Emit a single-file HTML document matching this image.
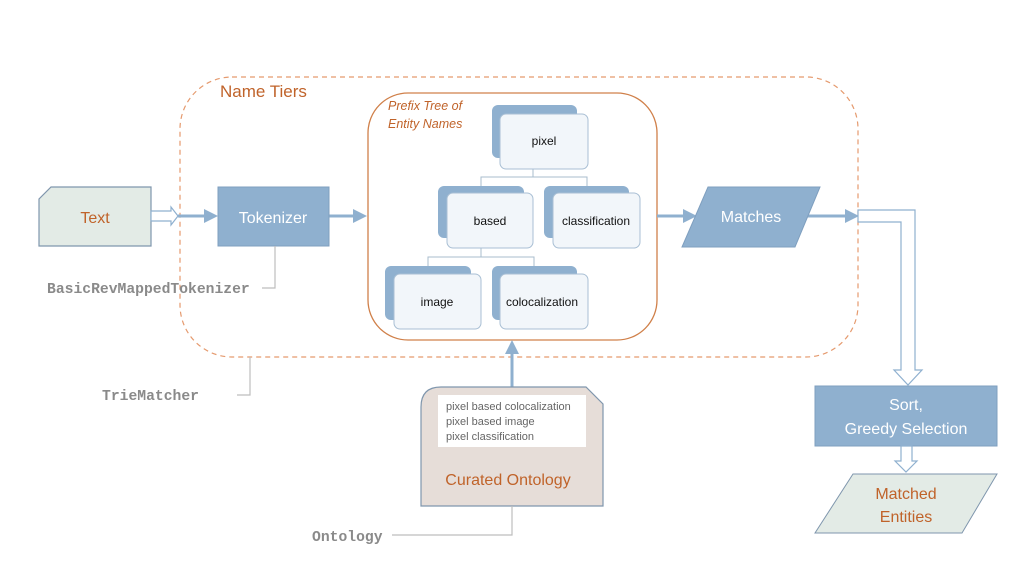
<!DOCTYPE html>
<html><head><meta charset="utf-8"><style>
html,body{margin:0;padding:0;background:#fff;width:1024px;height:576px;overflow:hidden}
svg{display:block}
.c{font-family:"Liberation Sans",sans-serif}
.m{font-family:"Liberation Mono",monospace;font-weight:bold;fill:#8a8a8a;font-size:14.7px}
</style></head><body>
<svg width="1024" height="576" viewBox="0 0 1024 576" xmlns="http://www.w3.org/2000/svg">
<rect x="180" y="77" width="678" height="280" rx="52" fill="none" stroke="#e59a6e" stroke-width="1.2" stroke-dasharray="5,4"/>
<text x="220" y="97" class="c" font-size="17" fill="#c0632a">Name Tiers</text>
<rect x="368" y="93" width="289" height="247" rx="40" fill="#fff" stroke="#d0804a" stroke-width="1.3"/>
<text x="388" y="110" class="c" font-size="12.5" font-style="italic" fill="#c0632a">Prefix Tree of</text>
<text x="388" y="128" class="c" font-size="12.5" font-style="italic" fill="#c0632a">Entity Names</text>
<g stroke="#a9bccd" fill="none" stroke-width="1">
<path d="M533 169V177M481 186V177H587V186"/>
<path d="M481 248V257M428 266V257H534V266"/>
</g>
<g class="c" font-size="12" text-anchor="middle" fill="#111">
<rect x="492" y="105" width="85" height="53" rx="6" fill="#8fb0cf"/>
<rect x="500" y="114" width="88" height="55" rx="6" fill="#f2f6fa" stroke="#a9bfd4"/>
<text x="544" y="145">pixel</text>
<rect x="438" y="186" width="86" height="52" rx="6" fill="#8fb0cf"/>
<rect x="447" y="193" width="86" height="55" rx="6" fill="#f2f6fa" stroke="#a9bfd4"/>
<text x="490" y="225">based</text>
<rect x="544" y="186" width="85" height="52" rx="6" fill="#8fb0cf"/>
<rect x="553" y="193" width="87" height="55" rx="6" fill="#f2f6fa" stroke="#a9bfd4"/>
<text x="596" y="225">classification</text>
<rect x="385" y="266" width="86" height="54" rx="6" fill="#8fb0cf"/>
<rect x="394" y="274" width="87" height="55" rx="6" fill="#f2f6fa" stroke="#a9bfd4"/>
<text x="437" y="306">image</text>
<rect x="492" y="266" width="85" height="54" rx="6" fill="#8fb0cf"/>
<rect x="500" y="274" width="88" height="55" rx="6" fill="#f2f6fa" stroke="#a9bfd4"/>
<text x="542" y="306">colocalization</text>
</g>
<path d="M51 187H151V246H39V199Z" fill="#e3ebe6" stroke="#7f96ad" stroke-width="1.2"/>
<text x="95" y="223" class="c" font-size="16" text-anchor="middle" fill="#c0632a">Text</text>
<path d="M151 211H171V207L178 216L171 225V221H151Z" fill="#fff" stroke="#8fb0cf" stroke-width="1.2"/>
<g stroke="#8fb0cf" stroke-width="3" fill="#8fb0cf">
<line x1="178" y1="216" x2="206" y2="216"/>
<path d="M218 216L204 209V223Z" stroke="none"/>
<line x1="329" y1="216" x2="354" y2="216"/>
<path d="M367 216L353 209V223Z" stroke="none"/>
<line x1="657" y1="216" x2="684" y2="216"/>
<path d="M697 216L683 209V223Z" stroke="none"/>
<line x1="795" y1="216" x2="846" y2="216"/>
<path d="M859 216L845 209V223Z" stroke="none"/>
<line x1="512" y1="387" x2="512" y2="352"/>
<path d="M512 340L505 354H519Z" stroke="none"/>
</g>
<rect x="218" y="187" width="111" height="59" fill="#8fb0cf" stroke="#7f9fbf"/>
<text x="273" y="223" class="c" font-size="16" text-anchor="middle" fill="#fff">Tokenizer</text>
<path d="M708 187H820L795 247H682Z" fill="#8fb0cf" stroke="#7f9fbf"/>
<text x="751" y="222" class="c" font-size="16" text-anchor="middle" fill="#fff">Matches</text>
<path d="M858 210H915V370H922L908 385L894 370H901V222H858Z" fill="#fff" stroke="#8fb0cf" stroke-width="1.2"/>
<rect x="815" y="386" width="182" height="60" fill="#8fb0cf" stroke="#7f9fbf"/>
<text x="906" y="410" class="c" font-size="16" text-anchor="middle" fill="#fff">Sort,</text>
<text x="906" y="434" class="c" font-size="16" text-anchor="middle" fill="#fff">Greedy Selection</text>
<path d="M901 446H912V461H917L906 472L895 461H901Z" fill="#fff" stroke="#8fb0cf" stroke-width="1.2"/>
<path d="M853 474H997L962 533H815Z" fill="#e3ebe6" stroke="#7f96ad"/>
<text x="906" y="499" class="c" font-size="16" text-anchor="middle" fill="#c0632a">Matched</text>
<text x="906" y="522" class="c" font-size="16" text-anchor="middle" fill="#c0632a">Entities</text>
<path d="M441 387H586L603 404V506H421V407Q421 387 441 387Z" fill="#e6ddd8" stroke="#7f96ad" stroke-width="1.2"/>
<rect x="438" y="395" width="148" height="52" fill="#fff"/>
<g class="c" font-size="11" fill="#666">
<text x="446" y="410">pixel based colocalization</text>
<text x="446" y="425">pixel based image</text>
<text x="446" y="440">pixel classification</text>
</g>
<text x="508" y="485" class="c" font-size="16" text-anchor="middle" fill="#c0632a">Curated Ontology</text>
<g stroke="#bdbdbd" fill="none" stroke-width="1.2">
<path d="M275 246V288H262"/>
<path d="M250 357V395H237"/>
<path d="M512 506V535H392"/>
</g>
<text x="47" y="293" class="m">BasicRevMappedTokenizer</text>
<text x="102" y="400" class="m">TrieMatcher</text>
<text x="312" y="541" class="m">Ontology</text>
</svg>
</body></html>
